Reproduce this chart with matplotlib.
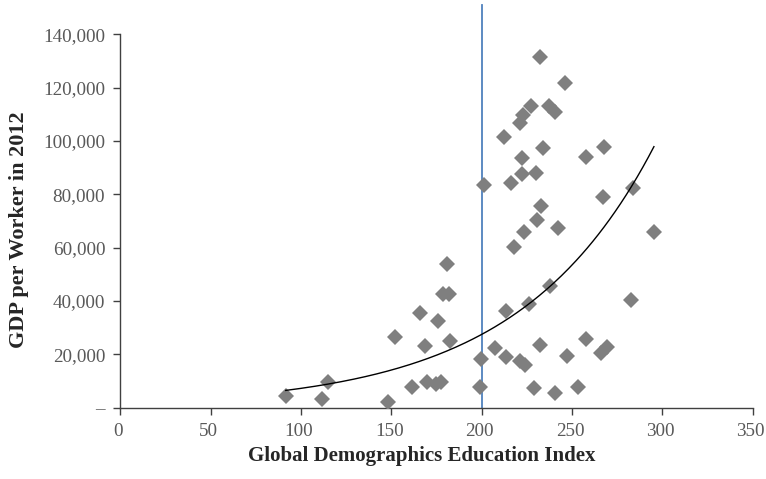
import numpy as np
import matplotlib
matplotlib.use("Agg")
import matplotlib.pyplot as plt
import matplotlib.transforms as mtransforms
from matplotlib.ticker import FuncFormatter

# Education index vs GDP per worker (2012)
edu_index = [91.5, 111.4, 115.1, 148.3, 151.8, 161.2, 165.7, 168.6, 169.5, 174.5,
             177.3, 175.8, 180.8, 178.7, 182.1, 182.6, 199.8, 199.1, 232.3, 246.1,
             227.1, 223.0, 221.2, 237.4, 240.6, 212.3, 234.1, 257.6, 222.5, 222.5,
             229.9, 201.1, 216.1, 232.8, 230.4, 242.1, 223.6, 218.0, 237.8, 213.3,
             226.4, 257.7, 232.5, 207.2, 213.3, 221.5, 224.0, 247.4, 229.0, 240.6,
             253.5, 267.9, 267.3, 284.0, 295.4, 282.5, 265.9, 269.2]
gdp_per_worker = [4500, 3400, 9500, 2250, 26400, 7900, 35600, 23250, 9500, 8900,
                  9500, 32600, 53800, 42500, 42500, 25000, 18150, 7650, 131400, 121900,
                  113100, 109800, 106650, 113100, 111000, 101600, 97300, 94100, 93750, 87600,
                  88100, 83400, 84150, 75750, 70400, 67300, 65800, 60400, 45600, 36250,
                  38900, 25700, 23500, 22500, 19100, 17500, 16000, 19400, 7500, 5600,
                  7700, 97650, 79100, 82500, 65800, 40400, 20600, 22900]
threshold = 200

plt.rcParams['font.family'] = ['Liberation Serif', 'DejaVu Serif']

fig = plt.figure(figsize=(7.66, 4.79), dpi=100)
ax = fig.add_axes([0.1573, 0.1489, 0.8251, 0.7793])

x = np.array(edu_index)
y = np.array(gdp_per_worker)

ax.plot(x, y, linestyle='none', marker='D', markersize=8.0,
        color='#7f7f7f', markeredgewidth=0, zorder=3)

# exponential trendline, fitted on log(y)
b, ln_a = np.polyfit(x, np.log(y), 1)
xs = np.linspace(x.min(), x.max(), 200)
ax.plot(xs, np.exp(ln_a) * np.exp(b * xs), color='black', linewidth=1.0, zorder=4)

ax.plot([threshold, threshold], [0, 151000], color='#4f81bd', linewidth=1.3,
        clip_on=False, zorder=2)

ax.set_xlim(0, 350)
ax.set_ylim(0, 140000)
ax.set_xticks(np.arange(0, 351, 50))
ax.set_yticks(np.arange(0, 140001, 20000))
ax.yaxis.set_major_formatter(FuncFormatter(lambda v, p: '–' if v == 0 else f'{int(v):,}'))

for side in ['top', 'right']:
    ax.spines[side].set_visible(False)
for side in ['left', 'bottom']:
    ax.spines[side].set_color('#404040')
    ax.spines[side].set_linewidth(1.0)
ax.tick_params(axis='both', direction='out', length=5, width=1.0, color='#404040',
               labelsize=13.8, labelcolor='#595959', pad=6)

# nudge x tick labels a little to the left
shift = mtransforms.ScaledTranslation(-2 / 100, 0, fig.dpi_scale_trans)
for lbl in ax.get_xticklabels():
    lbl.set_transform(lbl.get_transform() + shift)

ax.set_xlabel('Global Demographics Education Index', fontsize=15, fontweight='bold',
              color='#262626')
ax.set_ylabel('GDP per Worker in 2012', fontsize=16, fontweight='bold',
              color='#262626')
ax.xaxis.set_label_coords(0.477, -0.103)
ax.yaxis.set_label_coords(-0.145, 0.476)

fig.savefig('out.png', dpi=100)
